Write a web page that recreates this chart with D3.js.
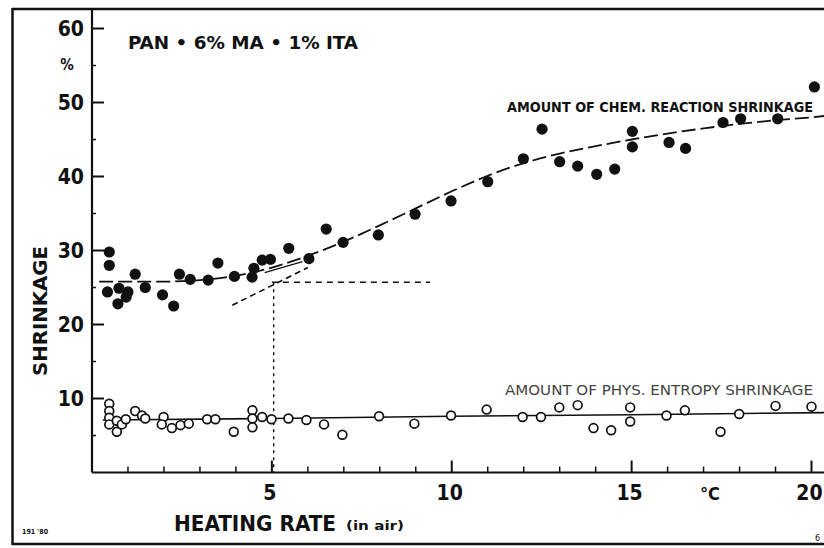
<!DOCTYPE html>
<html>
<head>
<meta charset="utf-8">
<script src="https://cdn.jsdelivr.net/npm/d3@7"></script>
<style>
  html, body { margin: 0; padding: 0; background: #fff; }
  svg { display: block; }
  text { font-family: "Liberation Sans Narrow", "DejaVu Sans Condensed", "DejaVu Sans", sans-serif; fill: #111; }
</style>
</head>
<body>
<svg id="chart" width="824" height="548"></svg>
<script>
// Heating rate (°C/min) vs. shrinkage (%) for PAN + 6% MA + 1% ITA fibre
const chemX = [0.48,0.48,0.43,0.75,0.72,0.95,1.0,1.2,1.48,1.96,2.27,2.43,2.73,3.23,3.5,3.96,4.45,4.5,4.73,4.96,5.47,6.03,6.51,6.98,7.96,8.98,9.98,11.0,11.99,12.51,13.0,13.5,14.03,14.53,15.02,15.02,16.04,16.5,17.54,18.03,19.06,20.08];
const chemY = [29.8,28.0,24.4,24.9,22.8,23.7,24.4,26.8,25.0,24.0,22.5,26.8,26.1,26.0,28.3,26.5,26.4,27.6,28.7,28.8,30.3,28.9,32.9,31.1,32.1,34.9,36.7,39.3,42.4,46.4,42.0,41.4,40.3,41.0,46.1,44.0,44.6,43.8,47.3,47.8,47.8,52.1];

const physX = [0.48,0.48,0.48,0.48,0.69,0.69,0.83,0.94,1.2,1.39,1.48,1.99,1.94,2.22,2.46,2.69,3.2,3.43,3.94,4.46,4.46,4.46,4.73,4.99,5.46,5.96,6.45,6.96,7.98,8.96,9.98,10.97,11.97,12.48,12.99,13.5,13.94,14.43,14.96,14.96,15.97,16.48,17.47,17.99,19.0,20.0];
const physY = [9.3,8.3,7.4,6.5,7.0,5.5,6.5,7.2,8.3,7.7,7.3,7.5,6.5,6.0,6.4,6.6,7.2,7.2,5.5,8.4,7.3,6.1,7.5,7.2,7.3,7.1,6.5,5.1,7.6,6.6,7.7,8.5,7.5,7.5,8.8,9.1,6.0,5.7,8.8,6.9,7.7,8.4,5.5,7.9,9.0,8.9];

// fitted trend curves
const chemCurveX = [0.2,1,2,3,4,5,6,7,8,9,10,11,12,13,14,15,16,17,18,19,20,20.4];
const chemCurveY = [25.8,25.8,25.8,26.0,26.6,27.7,29.3,31.2,33.4,35.7,38.0,40.1,41.8,43.1,44.1,45.0,45.8,46.5,47.1,47.6,48.0,48.2];
const physCurveX = [0.3,5,10,15,20.4];
const physCurveY = [7.1,7.3,7.6,7.8,8.1];

// onset construction (tangent, plateau level, onset rate)
const tangentX = [3.9,6.0];
const tangentY = [22.6,27.7];
const arcX = [4.8,5.85];
const arcY = [27.0,28.5];
const plateauX = [5.0,9.4];
const plateauLevel = 25.7;
const onsetRate = 5.05;

const xMajor = [5,10,15,20];
const xMinor = d3.range(1,21);
const yMajor = [10,20,30,40,50,60];
const yMinor = [5,15,25,35,45,55];

const svg = d3.select("#chart");
const x = d3.scaleLinear().domain([0,20]).range([92,811.5]);
const y = d3.scaleLinear().domain([0,60]).range([472.5,28.5]);

// outer frame
const frame = svg.append("g").attr("stroke","#111").attr("fill","none");
frame.append("line").attr("x1",12.5).attr("x2",12.5).attr("y1",8).attr("y2",545).attr("stroke-width",2.5);
frame.append("line").attr("x1",12).attr("x2",824).attr("y1",9).attr("y2",9).attr("stroke-width",2.5);
frame.append("line").attr("x1",12).attr("x2",824).attr("y1",544).attr("y2",544).attr("stroke-width",2.5);

// axes
const ax = svg.append("g").attr("stroke","#111");
ax.append("line").attr("x1",x(0)).attr("x2",x(0)).attr("y1",9).attr("y2",y(0)).attr("stroke-width",2.2);
ax.append("line").attr("x1",x(0)).attr("x2",824).attr("y1",y(0)).attr("y2",y(0)).attr("stroke-width",2.2);
ax.selectAll(".ymaj").data(yMajor).join("line")
  .attr("x1",x(0)).attr("x2",x(0)+12).attr("y1",d=>y(d)).attr("y2",d=>y(d)).attr("stroke-width",2);
ax.selectAll(".ymin").data(yMinor).join("line")
  .attr("x1",x(0)).attr("x2",x(0)+4).attr("y1",d=>y(d)).attr("y2",d=>y(d)).attr("stroke-width",1.5);
ax.selectAll(".xmin").data(xMinor.filter(d=>!xMajor.includes(d))).join("line")
  .attr("x1",d=>x(d)).attr("x2",d=>x(d)).attr("y1",y(0)).attr("y2",y(0)-6).attr("stroke-width",1.5);
ax.selectAll(".xmaj").data(xMajor).join("line")
  .attr("x1",d=>x(d)).attr("x2",d=>x(d)).attr("y1",y(0)).attr("y2",y(0)-12).attr("stroke-width",2);

// tick labels
svg.selectAll(".ylab").data(yMajor).join("text")
  .attr("x",84).attr("y",d=>y(d)).attr("dy","0.36em").attr("text-anchor","end")
  .attr("font-size",21).attr("font-weight","bold").text(d=>d);
svg.append("text").attr("x",67).attr("y",70).attr("text-anchor","middle").attr("font-size",15)
  .attr("font-weight","bold").text("%");
svg.selectAll(".xlab").data(xMajor).join("text")
  .attr("x",d=>x(d)-2).attr("y",500).attr("text-anchor","middle")
  .attr("font-size",21).attr("font-weight","bold").text(d=>d);
svg.append("text").attr("x",710).attr("y",500).attr("text-anchor","middle").attr("font-size",18)
  .attr("font-weight","bold").text("°C");

// axis titles
svg.append("text").attr("transform","translate(47,311) rotate(-90)").attr("text-anchor","middle")
  .attr("font-size",20).attr("font-weight","bold")
  .attr("textLength",130).attr("lengthAdjust","spacingAndGlyphs").text("SHRINKAGE");
svg.append("text").attr("x",174).attr("y",531).attr("font-size",21).attr("font-weight","bold")
  .attr("textLength",162).attr("lengthAdjust","spacingAndGlyphs").text("HEATING RATE");
svg.append("text").attr("x",346).attr("y",530).attr("font-size",13).attr("font-weight","bold")
  .attr("textLength",58).attr("lengthAdjust","spacingAndGlyphs").text("(in air)");
svg.append("text").attr("x",128).attr("y",49).attr("font-size",18).attr("font-weight","bold")
  .attr("textLength",230).attr("lengthAdjust","spacingAndGlyphs").text("PAN • 6% MA • 1% ITA");
svg.append("text").attr("x",22).attr("y",534).attr("font-size",7).attr("font-weight","bold").text("191 '80");
svg.append("text").attr("x",815).attr("y",541).attr("font-size",9).text("6");

// series labels
svg.append("text").attr("x",507).attr("y",112).attr("font-size",14).attr("font-weight","bold")
  .attr("textLength",306).attr("lengthAdjust","spacingAndGlyphs").text("AMOUNT OF CHEM. REACTION SHRINKAGE");
svg.append("text").attr("x",505).attr("y",395).attr("font-size",14).style("fill","#444")
  .attr("textLength",308).attr("lengthAdjust","spacingAndGlyphs").text("AMOUNT OF PHYS. ENTROPY SHRINKAGE");

const line = d3.line().x(d=>x(d[0])).y(d=>y(d[1]));
const smooth = d3.line().x(d=>x(d[0])).y(d=>y(d[1])).curve(d3.curveMonotoneX);
const zip = (a,b) => a.map((v,i)=>[v,b[i]]);

// onset construction lines
const cons = svg.append("g").attr("fill","none").attr("stroke","#111");
cons.append("path").attr("d",line([[plateauX[0],plateauLevel],[plateauX[1],plateauLevel]]))
  .attr("stroke-width",1.4).attr("stroke-dasharray","6,5");
cons.append("path").attr("d",line([[onsetRate,plateauLevel],[onsetRate,0]]))
  .attr("stroke-width",1.4).attr("stroke-dasharray","3,4");
cons.append("path").attr("d",line(zip(tangentX,tangentY)))
  .attr("stroke-width",1.6).attr("stroke-dasharray","6,4");
cons.append("path").attr("d",line(zip(arcX,arcY))).attr("stroke-width",1.3);

// trend curves
svg.append("path").attr("d",smooth(zip(chemCurveX,chemCurveY)))
  .attr("fill","none").attr("stroke","#111").attr("stroke-width",1.8).attr("stroke-dasharray","14,5");
svg.append("path").attr("d",line(zip(physCurveX,physCurveY)))
  .attr("fill","none").attr("stroke","#111").attr("stroke-width",1.6);

// data points
svg.append("g").selectAll("circle").data(zip(chemX,chemY)).join("circle")
  .attr("cx",d=>x(d[0])).attr("cy",d=>y(d[1])).attr("r",5.6).attr("fill","#111");
svg.append("g").selectAll("circle").data(zip(physX,physY)).join("circle")
  .attr("cx",d=>x(d[0])).attr("cy",d=>y(d[1])).attr("r",4.4)
  .attr("fill","#fff").attr("stroke","#111").attr("stroke-width",1.7);
</script>
</body>
</html>
